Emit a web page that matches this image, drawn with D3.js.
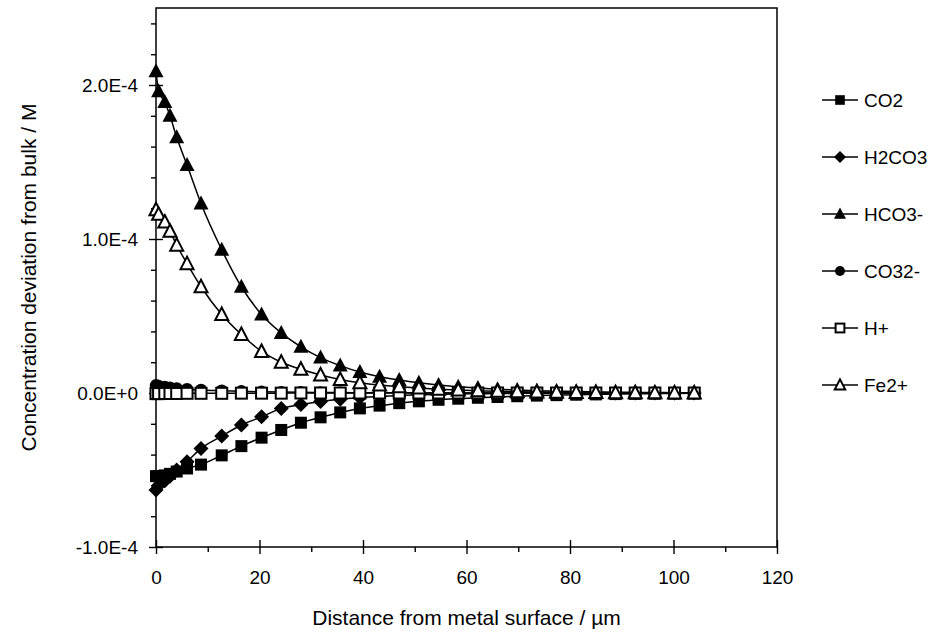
<!DOCTYPE html>
<html>
<head>
<meta charset="utf-8">
<script src="https://cdn.jsdelivr.net/npm/d3@7"></script>
<style>
  body { margin: 0; background: #fff; }
  text { font-family: Arial, "Liberation Sans", sans-serif; fill: #000; }
</style>
</head>
<body>
<div id="chart"></div>
<script>
var width = 948;
var height = 636;

// distance from metal surface (um)
var distance = [0, 0.5, 1.7, 2.7, 4.0, 6.0, 8.7, 12.7, 16.5, 20.4, 24.2, 28.0, 31.8, 35.6,
  39.4, 43.2, 47.0, 50.8, 54.6, 58.4, 62.2, 66.0, 69.8, 73.6, 77.4, 81.2, 85.0, 88.8,
  92.6, 96.4, 100.2, 104.0];

// concentration deviation from bulk (M)
var co2 = [-5.4e-5, -5.4e-5, -5.35e-5, -5.25e-5, -5.1e-5, -4.9e-5, -4.65e-5, -4.05e-5,
  -3.45e-5, -2.9e-5, -2.4e-5, -1.93e-5, -1.58e-5, -1.26e-5, -1.0e-5, -8.2e-6, -6.6e-6,
  -5.4e-6, -4.4e-6, -3.7e-6, -3.1e-6, -2.6e-6, -2.1e-6, -1.7e-6, -1.4e-6, -1.1e-6,
  -9e-7, -7e-7, -5e-7, -4e-7, -3e-7, -2e-7];
var h2co3 = [-6.3e-5, -6.0e-5, -5.7e-5, -5.4e-5, -5.0e-5, -4.46e-5, -3.6e-5, -2.8e-5,
  -2.08e-5, -1.55e-5, -1.0e-5, -7.5e-6, -5.5e-6, -4.0e-6, -3.0e-6, -2.2e-6, -1.6e-6,
  -1.2e-6, -9e-7, -6.5e-7, -5e-7, -3.5e-7, -2.5e-7, -2e-7, -1.5e-7, -1e-7, -8e-8,
  -6e-8, -4e-8, -3e-8, -2e-8, -1e-8];
var hco3 = [2.09e-4, 1.96e-4, 1.89e-4, 1.80e-4, 1.66e-4, 1.48e-4, 1.23e-4, 9.3e-5,
  6.9e-5, 5.1e-5, 3.9e-5, 3.0e-5, 2.3e-5, 1.78e-5, 1.36e-5, 1.06e-5, 8.5e-6, 6.7e-6,
  5.2e-6, 4.1e-6, 3.2e-6, 2.5e-6, 1.9e-6, 1.5e-6, 1.2e-6, 9e-7, 7e-7, 5e-7, 4e-7,
  3e-7, 2e-7, 1e-7];
var co32 = [5.0e-6, 4.5e-6, 4.0e-6, 3.5e-6, 3.0e-6, 2.5e-6, 2.0e-6, 1.5e-6, 1.1e-6,
  8e-7, 6e-7, 4.5e-7, 3.5e-7, 2.5e-7, 2e-7, 1.5e-7, 1e-7, 8e-8, 6e-8, 4e-8, 3e-8,
  2e-8, 1e-8, 0, 0, 0, 0, 0, 0, 0, 0, 0];
var hplus = [-4e-7, -4e-7, -3e-7, -3e-7, -3e-7, -2e-7, -2e-7, -2e-7, -1e-7, -1e-7,
  -1e-7, 0, 0, 0, 0, 0, 0, 0, 0, 0, 0, 0, 0, 0, 0, 0, 0, 0, 0, 0, 0, 0];
var fe2 = [1.19e-4, 1.16e-4, 1.11e-4, 1.05e-4, 9.6e-5, 8.4e-5, 6.9e-5, 5.1e-5, 3.8e-5,
  2.7e-5, 2.0e-5, 1.54e-5, 1.17e-5, 8.8e-6, 6.7e-6, 5.2e-6, 4.1e-6, 3.2e-6, 2.5e-6,
  1.9e-6, 1.5e-6, 1.1e-6, 8.5e-7, 6.5e-7, 5e-7, 4e-7, 3e-7, 2e-7, 1.5e-7, 1e-7,
  7e-8, 4e-8];

var seriesNames = ["CO2", "H2CO3", "HCO3-", "CO32-", "H+", "Fe2+"];
var seriesValues = [co2, h2co3, hco3, co32, hplus, fe2];
var seriesMarkers = ["square", "diamond", "triangle", "circle", "openSquare", "openTriangle"];

var xMajorTicks = [0, 20, 40, 60, 80, 100, 120];
var xMinorTicks = [10, 30, 50, 70, 90, 110];
var yMajorTicks = [-1e-4, 0, 1e-4, 2e-4];
var yTickLabels = ["-1.0E-4", "0.0E+0", "1.0E-4", "2.0E-4"];
var yMinorTicks = [-8e-5, -6e-5, -4e-5, -2e-5, 2e-5, 4e-5, 6e-5, 8e-5,
  1.2e-4, 1.4e-4, 1.6e-4, 1.8e-4, 2.2e-4, 2.4e-4];

var plot = { left: 156, right: 777, top: 8, bottom: 547 };

function createSVG() {
  return d3.select("#chart")
    .append("svg")
    .attr("width", width)
    .attr("height", height);
}

function drawMarker(g, type, cx, cy, s) {
  var k = s || 1;
  if (type === "square") {
    g.append("rect").attr("x", cx - 6 * k).attr("y", cy - 6 * k)
      .attr("width", 12 * k).attr("height", 12 * k).attr("fill", "#000");
  } else if (type === "diamond") {
    var d = 7.5 * k;
    g.append("path")
      .attr("d", "M" + cx + "," + (cy - d) + "L" + (cx + d) + "," + cy +
        "L" + cx + "," + (cy + d) + "L" + (cx - d) + "," + cy + "Z")
      .attr("fill", "#000");
  } else if (type === "triangle") {
    g.append("path")
      .attr("d", "M" + cx + "," + (cy - 8 * k) + "L" + (cx + 7.5 * k) + "," + (cy + 6 * k) +
        "L" + (cx - 7.5 * k) + "," + (cy + 6 * k) + "Z")
      .attr("fill", "#000");
  } else if (type === "circle") {
    g.append("circle").attr("cx", cx).attr("cy", cy).attr("r", 6.2 * k).attr("fill", "#000");
  } else if (type === "openSquare") {
    g.append("rect").attr("x", cx - 5.5 * k).attr("y", cy - 5.5 * k)
      .attr("width", 11 * k).attr("height", 11 * k)
      .attr("fill", "#fff").attr("stroke", "#000").attr("stroke-width", 2);
  } else if (type === "openTriangle") {
    g.append("path")
      .attr("d", "M" + cx + "," + (cy - 7 * k) + "L" + (cx + 6.5 * k) + "," + (cy + 5.5 * k) +
        "L" + (cx - 6.5 * k) + "," + (cy + 5.5 * k) + "Z")
      .attr("fill", "#fff").attr("stroke", "#000").attr("stroke-width", 2)
      .attr("stroke-linejoin", "miter");
  }
}

function drawAxes(svg, x, y) {
  // x axis, majors cross the line
  var xMajor = svg.append("g")
    .attr("transform", "translate(0," + plot.bottom + ")")
    .call(d3.axisBottom(x).tickValues(xMajorTicks).tickSize(6).tickPadding(18));
  xMajor.selectAll(".tick line").attr("y1", -7).attr("y2", 7);
  xMajor.selectAll(".tick text").style("font-size", "19px");

  svg.append("g")
    .attr("transform", "translate(0," + plot.bottom + ")")
    .call(d3.axisBottom(x).tickValues(xMinorTicks).tickSize(5).tickFormat(""));

  var yMajor = svg.append("g")
    .attr("transform", "translate(" + plot.left + ",0)")
    .call(d3.axisLeft(y).tickValues(yMajorTicks).tickSize(6).tickPadding(12)
      .tickFormat(function(d, i) { return yTickLabels[i]; }));
  yMajor.selectAll(".tick line").attr("x1", -7).attr("x2", 7);
  yMajor.selectAll(".tick text").style("font-size", "19px");

  svg.append("g")
    .attr("transform", "translate(" + plot.left + ",0)")
    .call(d3.axisLeft(y).tickValues(yMinorTicks).tickSize(5).tickFormat(""));

  svg.selectAll(".domain").remove();
  svg.selectAll(".tick line").attr("stroke", "#000").attr("stroke-width", 1.4);

  // plot frame
  svg.append("rect")
    .attr("x", plot.left).attr("y", plot.top)
    .attr("width", plot.right - plot.left).attr("height", plot.bottom - plot.top)
    .attr("fill", "none").attr("stroke", "#000").attr("stroke-width", 1.5);

  svg.append("text")
    .attr("x", (plot.left + plot.right) / 2)
    .attr("y", 625)
    .attr("text-anchor", "middle")
    .style("font-size", "21px")
    .text("Distance from metal surface / \u00b5m");

  svg.append("text")
    .attr("transform", "translate(36," + ((plot.top + plot.bottom) / 2) + ") rotate(-90)")
    .attr("text-anchor", "middle")
    .style("font-size", "21px")
    .text("Concentration deviation from bulk / M");
}

function drawSeries(svg, x, y) {
  var line = d3.line()
    .x(function(d) { return x(d[0]); })
    .y(function(d) { return y(d[1]); })
    .curve(d3.curveMonotoneX);

  seriesValues.forEach(function(vals, i) {
    var pts = distance.map(function(d, j) { return [d, vals[j]]; });
    var g = svg.append("g").attr("class", "series");
    g.append("path")
      .attr("d", line(pts))
      .attr("fill", "none")
      .attr("stroke", "#000")
      .attr("stroke-width", 1.5);
    pts.forEach(function(p) {
      drawMarker(g, seriesMarkers[i], x(p[0]), y(p[1]), 1);
    });
  });
}

function drawLegend(svg) {
  var legendY = d3.scalePoint().domain(seriesNames).range([100, 385]);
  seriesNames.forEach(function(name, i) {
    var ly = legendY(name);
    var g = svg.append("g");
    g.append("line")
      .attr("x1", 822).attr("x2", 858).attr("y1", ly).attr("y2", ly)
      .attr("stroke", "#000").attr("stroke-width", 1.4);
    drawMarker(g, seriesMarkers[i], 840, ly, 0.8);
    g.append("text")
      .attr("x", 864).attr("y", ly)
      .attr("dy", "0.36em")
      .style("font-size", "19px")
      .text(name);
  });
}

function main() {
  var svg = createSVG();
  var x = d3.scaleLinear().domain([0, 120]).range([plot.left, plot.right]);
  var y = d3.scaleLinear().domain([-1e-4, 2.5e-4]).range([plot.bottom, plot.top]);
  drawAxes(svg, x, y);
  drawSeries(svg, x, y);
  drawLegend(svg);
}

window.onload = function() {
  main();
};
</script>
</body>
</html>
